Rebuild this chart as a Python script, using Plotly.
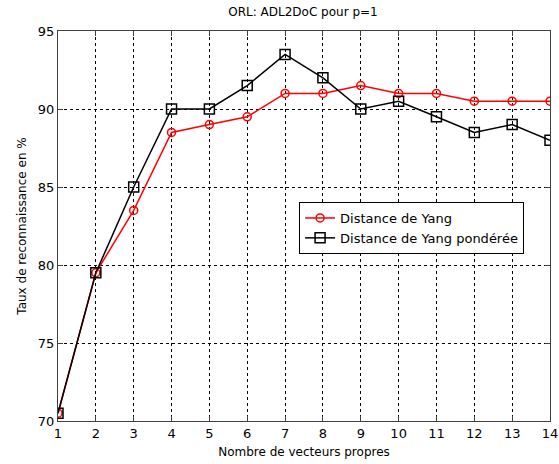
import plotly.graph_objects as go

x_vals = list(range(1, 15))
yang = [70.5, 79.5, 83.5, 88.5, 89, 89.5, 91, 91, 91.5, 91, 91, 90.5, 90.5, 90.5]
yang_pond = [70.5, 79.5, 85, 90, 90, 91.5, 93.5, 92, 90, 90.5, 89.5, 88.5, 89, 88]
x_ticks = list(range(1, 15))
y_ticks = [70, 75, 80, 85, 90, 95]

fig = go.Figure()
fig.add_trace(go.Scatter(
    x=x_vals, y=yang, mode="lines+markers", name="Distance de Yang",
    line=dict(color="#ff0000", width=1.5),
    marker=dict(symbol="circle-open", size=8, color="#ff0000", line=dict(width=1.5)),
))
fig.add_trace(go.Scatter(
    x=x_vals, y=yang_pond, mode="lines+markers", name="Distance de Yang pondérée",
    line=dict(color="#000000", width=1.5),
    marker=dict(symbol="square-open", size=10, color="#000000", line=dict(width=1.5)),
))

font = "DejaVu Sans, Verdana, sans-serif"
fig.update_layout(
    width=559, height=464,
    margin=dict(l=58, r=9, t=31, b=43),
    paper_bgcolor="white", plot_bgcolor="white",
    font=dict(family=font, size=12, color="#000000"),
    title=dict(text="ORL: ADL2DoC pour p=1", x=0.542, xanchor="center", y=0.975, yanchor="middle",
               font=dict(size=12, family=font)),
    showlegend=True,
    legend=dict(x=0.49, y=0.5615, xanchor="left", yanchor="top",
                bgcolor="white", bordercolor="#000000", borderwidth=1,
                font=dict(size=13, family=font), tracegroupgap=0,
                itemwidth=30),
)
fig.update_xaxes(
    range=[1, 14], tickvals=x_ticks, ticktext=[str(v) for v in x_ticks],
    showgrid=True, gridcolor="#000000", griddash="3px,3px", gridwidth=1,
    showline=True, linecolor="#404040", linewidth=1, mirror="ticks",
    ticks="inside", ticklen=5, tickcolor="#404040",
    tickfont=dict(size=13, family=font), ticklabeloverflow="allow",
    title=dict(text="Nombre de vecteurs propres", font=dict(size=12, family=font), standoff=8),
    zeroline=False, automargin=False,
)
fig.update_yaxes(
    range=[70, 95], tickvals=y_ticks, ticktext=[str(v) for v in y_ticks],
    showgrid=True, gridcolor="#000000", griddash="3px,3px", gridwidth=1,
    showline=True, linecolor="#404040", linewidth=1, mirror="ticks",
    ticks="inside", ticklen=5, tickcolor="#404040",
    tickfont=dict(size=13, family=font),
    title=dict(text="Taux de reconnaissance en %", font=dict(size=12, family=font), standoff=8),
    zeroline=False, automargin=False,
)

fig.write_html("out.html")
